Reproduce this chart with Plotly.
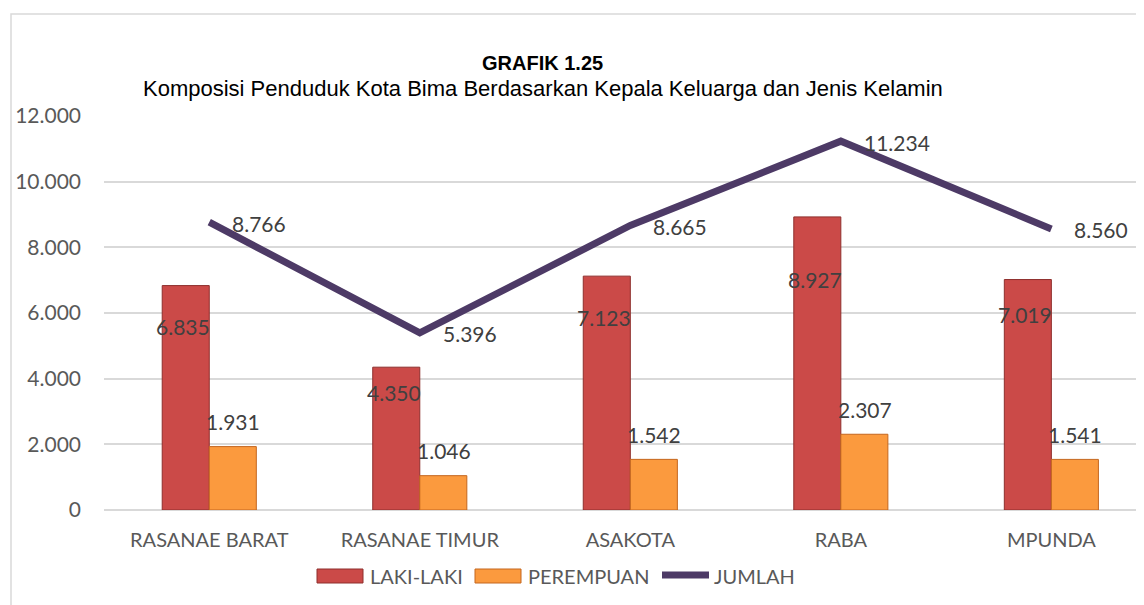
import plotly.graph_objects as go

# ---- data ----
categories = ["RASANAE BARAT", "RASANAE TIMUR", "ASAKOTA", "RABA", "MPUNDA"]
laki_laki = [6835, 4350, 7123, 8927, 7019]
perempuan = [1931, 1046, 1542, 2307, 1541]
jumlah = [8766, 5396, 8665, 11234, 8560]
y_ticks = [0, 2000, 4000, 6000, 8000, 10000, 12000]

# ---- style ----
W, H = 1144, 605
OX, OY = 8, 8  # page body margin
ML, MR, MT, MB = 96, 8, 108, 103
PW = W - ML - MR
PH = H - MT - MB

RED = "#CB4A48"
RED_EDGE = "#8E2F2D"
ORANGE = "#FB9A3E"
ORANGE_EDGE = "#C4671F"
PURPLE = "#4D3A66"
GRID = "#D9D9D9"
TXT = "#595959"
LBL = "#404040"
FONT = "Lato, Open Sans, sans-serif"
TFONT = "Liberation Sans, Arial, sans-serif"

red_label_shift = [-41, -25, -41, -63, -35]  # label placement below bar top (px)


def px_x(px):
    return (px - OX - ML) / PW


def px_y(py):
    return (H - MB - (py - OY)) / PH


fig = go.Figure()
fig.add_trace(go.Bar(
    x=categories, y=laki_laki, name="LAKI-LAKI",
    marker=dict(color=RED, line=dict(color=RED_EDGE, width=1)),
    showlegend=False, hoverinfo="x+y",
))
fig.add_trace(go.Bar(
    x=categories, y=perempuan, name="PEREMPUAN",
    marker=dict(color=ORANGE, line=dict(color=ORANGE_EDGE, width=1)),
    showlegend=False, hoverinfo="x+y",
))
fig.add_trace(go.Scatter(
    x=categories, y=jumlah, name="JUMLAH", mode="lines",
    line=dict(color=PURPLE, width=7),
    showlegend=False, hoverinfo="x+y",
))


def fmt(v):
    return f"{v:,}".replace(",", ".")


annotations = []
for i, c in enumerate(categories):
    annotations.append(dict(
        x=c, y=laki_laki[i], xref="x", yref="y", text=fmt(laki_laki[i]),
        showarrow=False, xanchor="center", yanchor="middle",
        xshift=-26, yshift=red_label_shift[i],
        font=dict(family=FONT, size=21, color=LBL),
    ))
    annotations.append(dict(
        x=c, y=perempuan[i], xref="x", yref="y", text=fmt(perempuan[i]),
        showarrow=False, xanchor="center", yanchor="middle",
        xshift=24, yshift=25,
        font=dict(family=FONT, size=21, color=LBL),
    ))
    annotations.append(dict(
        x=c, y=jumlah[i], xref="x", yref="y", text=fmt(jumlah[i]),
        showarrow=False, xanchor="left", yanchor="middle",
        xshift=21, yshift=-1,
        font=dict(family=FONT, size=21, color=LBL),
    ))

# titles
annotations.append(dict(
    x=px_x(542), y=px_y(63), xref="paper", yref="paper",
    text="<b>GRAFIK 1.25</b>", showarrow=False,
    xanchor="center", yanchor="middle",
    font=dict(family=TFONT, size=20, color="#000000"),
))
annotations.append(dict(
    x=px_x(543), y=px_y(88), xref="paper", yref="paper",
    text="Komposisi Penduduk Kota Bima Berdasarkan Kepala Keluarga dan Jenis Kelamin",
    showarrow=False, xanchor="center", yanchor="middle",
    font=dict(family=TFONT, size=22, color="#000000"),
))

# custom legend
shapes = []
legend_items = [
    ("LAKI-LAKI", "bar", RED, RED_EDGE, 317, 363, 368),
    ("PEREMPUAN", "bar", ORANGE, ORANGE_EDGE, 475, 521, 526),
    ("JUMLAH", "line", PURPLE, PURPLE, 662, 709, 712),
]
for label, kind, col, edge, x0, x1, tx in legend_items:
    if kind == "bar":
        shapes.append(dict(
            type="rect", xref="paper", yref="paper",
            x0=px_x(x0), x1=px_x(x1), y0=px_y(583), y1=px_y(569),
            fillcolor=col, line=dict(color=edge, width=1),
        ))
    else:
        shapes.append(dict(
            type="line", xref="paper", yref="paper",
            x0=px_x(x0), x1=px_x(x1), y0=px_y(575), y1=px_y(575),
            line=dict(color=col, width=7),
        ))
    annotations.append(dict(
        x=px_x(tx), y=px_y(576), xref="paper", yref="paper",
        text=label, showarrow=False, xanchor="left", yanchor="middle",
        font=dict(family=FONT, size=20, color=TXT),
    ))

# chart border
shapes.append(dict(
    type="rect", xref="paper", yref="paper", layer="below",
    x0=px_x(11), x1=px_x(1200), y0=px_y(640), y1=px_y(14),
    fillcolor="rgba(0,0,0,0)", line=dict(color=GRID, width=1.5),
))

fig.update_layout(
    width=W, height=H,
    margin=dict(l=ML, r=MR, t=MT, b=MB, pad=0),
    paper_bgcolor="white", plot_bgcolor="white",
    barmode="group", bargap=0.553, bargroupgap=0,
    separators=",.",
    showlegend=False,
    annotations=annotations,
    shapes=shapes,
    xaxis=dict(
        type="category", range=[-0.5, 4.44],
        showgrid=False, zeroline=False, showline=False,
        ticks="", ticklabelstandoff=16,
        tickfont=dict(family=FONT, size=20, color=TXT),
    ),
    yaxis=dict(
        range=[0, 12000], tickvals=y_ticks,
        tickformat=",d",
        showgrid=True, gridcolor=GRID, gridwidth=1.5,
        zeroline=True, zerolinecolor=GRID, zerolinewidth=1.5,
        showline=False, ticks="", ticklabelstandoff=22,
        tickfont=dict(family=FONT, size=21, color=TXT),
    ),
)

fig.write_html("out.html")
